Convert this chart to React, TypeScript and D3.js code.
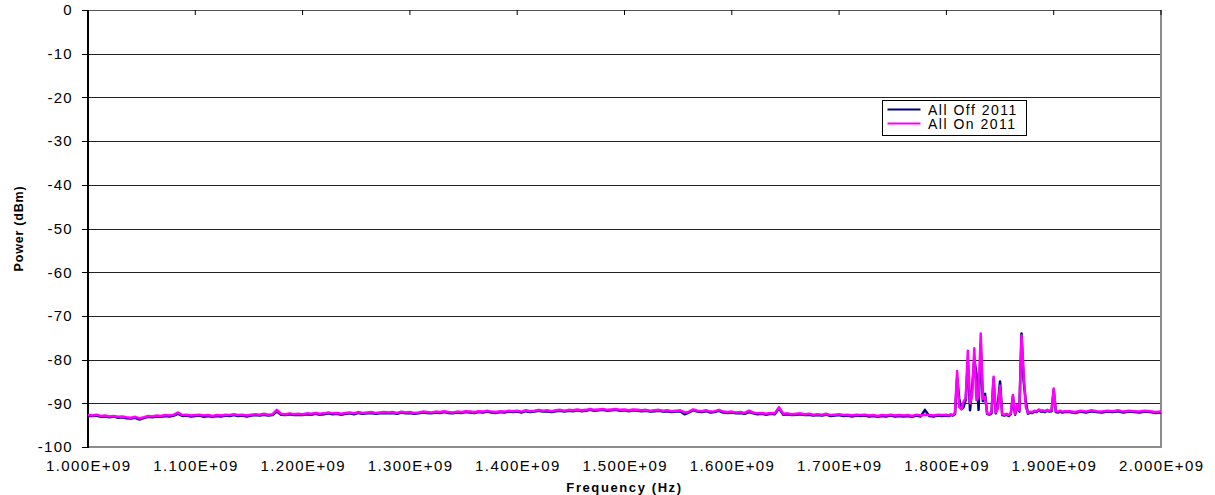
import React, { useEffect, useRef } from "react";
import * as d3 from "d3";

// sweep segments (MHz): coarse floor, fine spike region, coarse tail
const segA = d3.range(1000, 1800, 4);
const segB = d3.range(1800, 1911, 2);
const segC = d3.range(1915, 2001, 5);
const freqMHz = [...segA, ...segB, ...segC];

// All On 2011 (dBm)
const onA = [
  -92.7, -92.8, -92.6, -92.9, -92.8, -93.0, -92.9, -93.1, -93.0, -93.2,
  -93.3, -93.1, -93.4, -93.2, -92.9, -93.0, -92.8, -92.9, -92.7, -92.8,
  -92.6, -92.1, -92.7, -92.6, -92.8, -92.7, -92.6, -92.8, -92.7, -92.9,
  -92.7, -92.8, -92.6, -92.7, -92.5, -92.7, -92.6, -92.8, -92.6, -92.5,
  -92.6, -92.4, -92.6, -92.5, -91.5, -92.4, -92.5, -92.3, -92.5, -92.4,
  -92.5, -92.3, -92.4, -92.2, -92.4, -92.3, -92.1, -92.3, -92.2, -92.4,
  -92.2, -92.1, -92.3, -92.0, -92.2, -92.1, -92.0, -92.2, -92.1, -92.0,
  -92.1, -92.0, -92.2, -91.9, -92.1, -92.0, -92.2, -92.1, -91.9, -92.0,
  -92.1, -91.9, -92.0, -91.8, -92.0, -92.1, -91.9, -92.0, -91.8, -91.9,
  -92.0, -91.8, -91.9, -91.7, -91.9, -92.0, -91.8, -91.9, -91.7, -91.8,
  -91.7, -91.9, -91.6, -91.8, -91.7, -91.5, -91.7, -91.6, -91.8, -91.6,
  -91.5, -91.7, -91.5, -91.6, -91.4, -91.6, -91.5, -91.3, -91.5, -91.4,
  -91.3, -91.5, -91.4, -91.3, -91.5, -91.4, -91.6, -91.4, -91.5, -91.6,
  -91.5, -91.7, -91.6, -91.5, -91.7, -91.6, -91.8, -91.7, -91.6, -92.1,
  -91.9, -91.4, -91.7, -91.8, -91.6, -91.9, -91.8, -91.5, -91.9, -92.0,
  -91.9, -92.1, -92.0, -92.2, -91.7, -92.1, -92.3, -92.2, -92.4, -92.2,
  -92.3, -90.9, -92.4, -92.3, -92.5, -92.4, -92.3, -92.5, -92.4, -92.6,
  -92.5, -92.6, -92.4, -92.7, -92.6, -92.5, -92.7, -92.6, -92.8, -92.6,
  -92.7, -92.6, -92.8, -92.7, -92.9, -92.7, -92.8, -92.6, -92.8, -92.7,
  -92.8, -92.7, -92.9, -92.6, -92.8, -92.6, -92.7, -92.8, -92.6, -92.7,
];
const onB = [
  -92.6, -92.8, -92.5, -92.7, -92.2, -82.6, -90.9, -91.4, -89.6, -88.8,
  -78.0, -90.0, -88.2, -77.4, -89.3, -88.4, -74.0, -89.0, -88.5, -92.3,
  -92.5, -92.0, -83.9, -92.1, -91.2, -86.0, -92.5, -92.6, -92.4, -92.7,
  -92.3, -88.1, -92.4, -90.4, -91.6, -74.5, -83.0, -90.8, -92.2, -91.9,
  -92.0, -91.7, -91.8, -91.4, -91.7, -91.6, -91.8, -91.5, -91.7, -91.6,
  -86.6, -91.8, -91.9, -91.7, -91.9, -91.8,
];
const onC = [
  -91.8, -92.0, -91.7, -91.9, -91.6, -91.8, -91.9, -91.7, -91.8, -91.6,
  -91.9, -91.7, -91.8, -91.9, -91.7, -91.8, -92.0, -91.9,
];

// All Off 2011 (dBm)
const offA = [
  -92.9, -92.9, -92.8, -93.1, -93.0, -93.2, -93.0, -93.3, -93.2, -93.4,
  -93.5, -93.3, -93.7, -93.4, -93.1, -93.2, -93.0, -93.1, -92.9, -93.0,
  -92.8, -92.4, -92.9, -92.8, -93.0, -92.9, -92.8, -93.1, -92.9, -93.1,
  -92.9, -93.0, -92.8, -92.9, -92.7, -92.9, -92.8, -93.0, -92.8, -92.7,
  -92.8, -92.6, -92.8, -92.7, -91.9, -92.6, -92.7, -92.5, -92.7, -92.6,
  -92.7, -92.5, -92.6, -92.4, -92.6, -92.5, -92.3, -92.5, -92.4, -92.6,
  -92.4, -92.3, -92.5, -92.2, -92.4, -92.3, -92.2, -92.4, -92.3, -92.2,
  -92.3, -92.2, -92.4, -92.1, -92.3, -92.2, -92.4, -92.3, -92.1, -92.2,
  -92.3, -92.1, -92.2, -92.0, -92.2, -92.3, -92.1, -92.2, -92.0, -92.1,
  -92.2, -92.0, -92.1, -91.9, -92.1, -92.2, -92.0, -92.1, -91.9, -92.0,
  -91.9, -92.1, -91.8, -92.0, -91.9, -91.7, -91.9, -91.8, -92.0, -91.8,
  -91.7, -91.9, -91.7, -91.8, -91.6, -91.8, -91.7, -91.5, -91.7, -91.6,
  -91.5, -91.7, -91.6, -91.5, -91.7, -91.6, -91.8, -91.6, -91.7, -91.8,
  -91.7, -91.9, -91.8, -91.7, -91.9, -91.8, -92.0, -91.9, -91.8, -92.5,
  -92.1, -91.6, -91.9, -92.0, -91.8, -92.1, -92.0, -91.7, -92.1, -92.2,
  -92.1, -92.3, -92.2, -92.4, -92.0, -92.3, -92.5, -92.4, -92.6, -92.4,
  -92.5, -91.2, -92.6, -92.5, -92.7, -92.6, -92.5, -92.7, -92.6, -92.8,
  -92.7, -92.8, -92.6, -92.9, -92.8, -92.7, -92.9, -92.8, -93.0, -92.8,
  -92.9, -92.8, -93.0, -92.9, -93.1, -92.9, -93.0, -92.8, -93.0, -92.9,
  -93.0, -92.9, -93.1, -92.8, -93.0, -91.5, -92.9, -93.0, -92.8, -92.9,
];
const offB = [
  -92.8, -92.9, -92.7, -92.8, -92.5, -84.2, -89.0, -91.3, -90.9, -89.2,
  -80.5, -91.6, -86.5, -80.0, -83.3, -91.5, -76.5, -89.5, -87.8, -92.4,
  -92.6, -92.3, -84.5, -92.3, -90.2, -85.0, -92.7, -92.8, -92.6, -92.9,
  -92.5, -88.5, -92.6, -90.8, -91.9, -74.0, -85.0, -89.6, -92.4, -92.1,
  -92.2, -91.9, -92.0, -91.6, -91.9, -91.8, -92.0, -91.7, -91.9, -91.8,
  -87.0, -92.0, -92.1, -91.9, -92.1, -92.0,
];
const offC = [
  -92.0, -92.2, -91.9, -92.1, -91.8, -92.0, -92.1, -91.9, -92.0, -91.8,
  -92.1, -91.9, -92.0, -92.1, -91.9, -92.0, -92.2, -92.1,
];

const allOn = [...onA, ...onB, ...onC];
const allOff = [...offA, ...offB, ...offC];

const xTicks = [1e9, 1.1e9, 1.2e9, 1.3e9, 1.4e9, 1.5e9, 1.6e9, 1.7e9, 1.8e9, 1.9e9, 2e9];
const yTicks = [0, -10, -20, -30, -40, -50, -60, -70, -80, -90, -100];

const seriesNames = ["All Off 2011", "All On 2011"];
const seriesColors = ["#000080", "#FF00FF"];

const W = 1215;
const H = 495;
const FONT = "'Liberation Sans', Arial, sans-serif";

const App = () => {
  const svgRef = useRef<SVGSVGElement>(null);

  useEffect(() => {
    const svg = d3.select(svgRef.current);
    svg.selectAll("*").remove();

    const margin = { top: 10, right: 54, bottom: 48, left: 88 };
    const x = d3
      .scaleLinear()
      .domain([1e9, 2e9])
      .range([margin.left, W - margin.right]);
    const y = d3
      .scaleLinear()
      .domain([-100, 0])
      .range([H - margin.bottom, margin.top]);

    // gridlines
    svg
      .append("g")
      .selectAll("line")
      .data(yTicks.filter((t) => t !== 0 && t !== -100))
      .join("line")
      .attr("x1", margin.left)
      .attr("x2", W - margin.right)
      .attr("y1", (d) => Math.round(y(d)) + 0.5)
      .attr("y2", (d) => Math.round(y(d)) + 0.5)
      .attr("stroke", "#222")
      .attr("stroke-width", 1);

    // plot border (right, bottom gray; top dark)
    svg
      .append("line")
      .attr("x1", W - margin.right)
      .attr("x2", W - margin.right)
      .attr("y1", y(0))
      .attr("y2", y(-100))
      .attr("stroke", "#8c8c8c")
      .attr("stroke-width", 2);
    svg
      .append("line")
      .attr("x1", margin.left)
      .attr("x2", W - margin.right + 1)
      .attr("y1", y(-100))
      .attr("y2", y(-100))
      .attr("stroke", "#8c8c8c")
      .attr("stroke-width", 2);
    svg
      .append("line")
      .attr("x1", margin.left)
      .attr("x2", W - margin.right)
      .attr("y1", Math.round(y(0)) + 0.5)
      .attr("y2", Math.round(y(0)) + 0.5)
      .attr("stroke", "#555")
      .attr("stroke-width", 1);

    // x ticks at top (axis crosses at 0)
    svg
      .append("g")
      .selectAll("line")
      .data(xTicks)
      .join("line")
      .attr("x1", (d) => x(d))
      .attr("x2", (d) => x(d))
      .attr("y1", y(0))
      .attr("y2", y(0) + 5)
      .attr("stroke", "#000")
      .attr("stroke-width", 1);

    // y axis
    svg
      .append("line")
      .attr("x1", margin.left)
      .attr("x2", margin.left)
      .attr("y1", y(0))
      .attr("y2", y(-100) + 1)
      .attr("stroke", "#000")
      .attr("stroke-width", 2);
    svg
      .append("g")
      .selectAll("line")
      .data(yTicks)
      .join("line")
      .attr("x1", margin.left - 6)
      .attr("x2", margin.left)
      .attr("y1", (d) => Math.round(y(d)) + 0.5)
      .attr("y2", (d) => Math.round(y(d)) + 0.5)
      .attr("stroke", "#000")
      .attr("stroke-width", 1);

    svg
      .append("g")
      .selectAll("text")
      .data(yTicks)
      .join("text")
      .attr("x", 73)
      .attr("y", (d) => y(d) + 5.3)
      .attr("text-anchor", "end")
      .attr("font-family", FONT)
      .attr("font-size", 15)
      .attr("letter-spacing", 1.3)
      .attr("fill", "#000")
      .text((d) => d);

    svg
      .append("g")
      .selectAll("text")
      .data(xTicks)
      .join("text")
      .attr("x", (d) => x(d) + 0.7)
      .attr("y", 470.7)
      .attr("text-anchor", "middle")
      .attr("font-family", FONT)
      .attr("font-size", 15)
      .attr("letter-spacing", 1.4)
      .attr("fill", "#000")
      .text((d) => d3.format(".3e")(d).replace("e+", "E+0").toUpperCase());

    // axis titles
    svg
      .append("text")
      .attr("transform", `translate(23,${(y(0) + y(-100)) / 2}) rotate(-90)`)
      .attr("text-anchor", "middle")
      .attr("font-family", FONT)
      .attr("font-size", 12.5)
      .attr("font-weight", "bold")
      .attr("letter-spacing", 0.8)
      .text("Power (dBm)");
    svg
      .append("text")
      .attr("x", (x(1e9) + x(2e9)) / 2)
      .attr("y", 492)
      .attr("text-anchor", "middle")
      .attr("font-family", FONT)
      .attr("font-size", 13)
      .attr("font-weight", "bold")
      .attr("letter-spacing", 1.6)
      .text("Frequency (Hz)");

    // series
    const line = d3
      .line<number>()
      .x((_, i) => x(freqMHz[i] * 1e6))
      .y((d) => y(d));

    [allOff, allOn].forEach((vals, k) => {
      svg
        .append("path")
        .datum(vals)
        .attr("d", line)
        .attr("fill", "none")
        .attr("stroke", seriesColors[k])
        .attr("stroke-width", 2.5)
        .attr("stroke-linejoin", "round");
    });

    // legend
    const lg = svg.append("g").attr("transform", "translate(882.5,100.5)");
    lg.append("rect")
      .attr("width", 144)
      .attr("height", 35)
      .attr("fill", "#fff")
      .attr("stroke", "#000")
      .attr("stroke-width", 1);
    seriesNames.forEach((name, k) => {
      const ly = 9 + k * 14;
      lg.append("line")
        .attr("x1", 5)
        .attr("x2", 38)
        .attr("y1", ly)
        .attr("y2", ly)
        .attr("stroke", seriesColors[k])
        .attr("stroke-width", 2);
      lg.append("text")
        .attr("x", 45.5)
        .attr("y", ly + 5.5)
        .attr("font-family", FONT)
        .attr("font-size", 14)
        .attr("letter-spacing", 1.5)
        .text(name);
    });
  }, []);

  return (
    <svg
      ref={svgRef}
      width={W}
      height={H}
      style={{ position: "absolute", left: 0, top: 0, background: "#fff" }}
    />
  );
};

export default App;
